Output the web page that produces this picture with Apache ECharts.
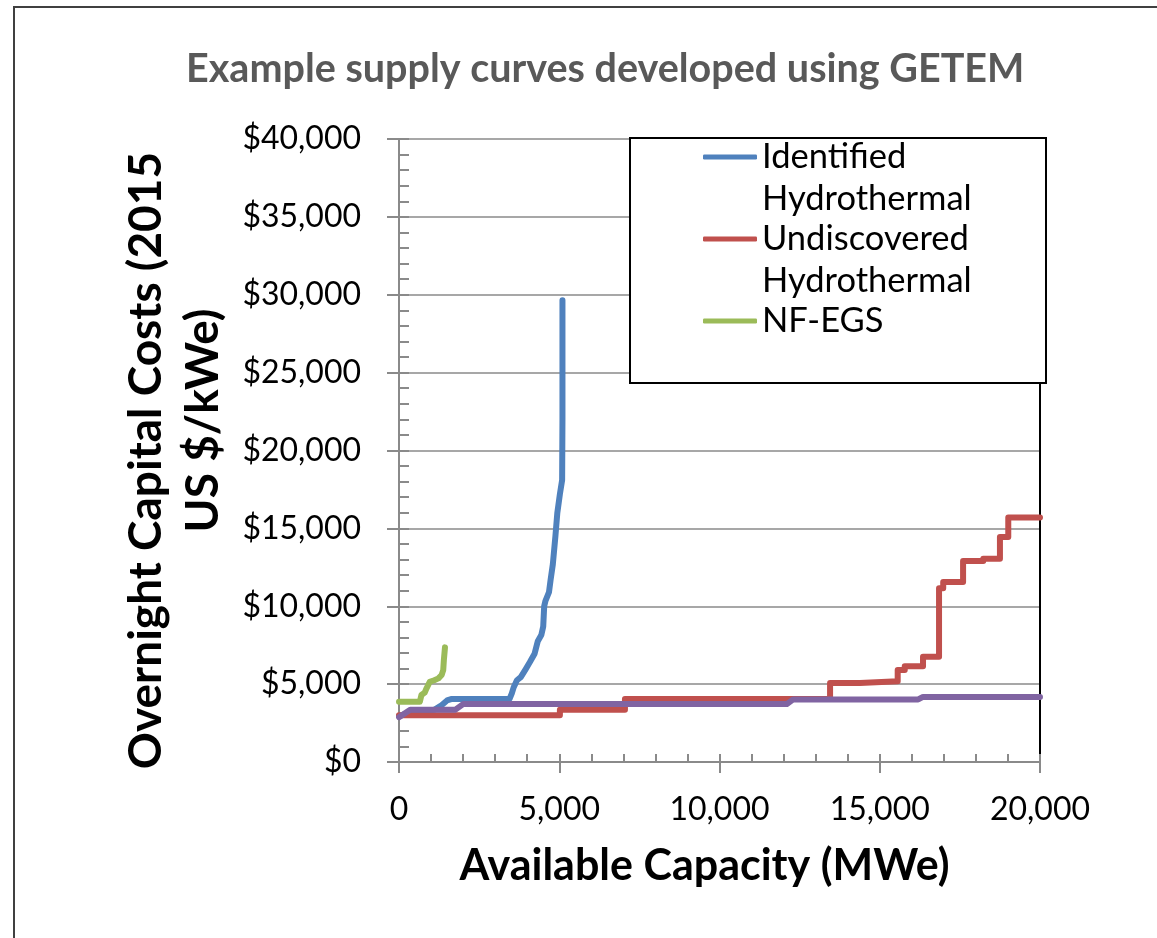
<!DOCTYPE html>
<html><head><meta charset="utf-8">
<script src="https://cdn.jsdelivr.net/npm/echarts@6/dist/echarts.min.js"></script>
<style>html,body{margin:0;padding:0;background:#fff}#c{width:1157px;height:938px}</style>
</head><body><div id="c"></div><script>
const titleText = 'Example supply curves developed using GETEM';
const xAxisTitle = 'Available Capacity (MWe)';
const yAxisTitleLines = ['Overnight Capital Costs (2015', 'US $/kWe)'];
const seriesNames = ['Identified Hydrothermal', 'Undiscovered Hydrothermal', 'NF-EGS', 'Other'];
const legendLabels = ['Identified\nHydrothermal', 'Undiscovered\nHydrothermal', 'NF-EGS'];
const seriesColors = ['#4F81BD', '#C0504D', '#9BBB59', '#8064A2'];

// [capacity MWe, cost $/kWe]
const identified = [[0,2950],[300,3150],[700,3250],[1100,3350],[1300,3600],[1500,3950],[1650,4050],[3450,4050],
  [3520,4400],[3580,4800],[3680,5250],[3800,5450],[3950,5950],[4080,6400],[4230,6950],[4330,7750],[4440,8150],
  [4500,8700],[4530,10000],[4570,10350],[4680,10900],[4730,11700],[4800,12700],[4880,14500],[4940,16000],
  [5020,17200],[5090,18100],[5100,22000],[5100,29650]];
// step curve: each point = where the new level begins
const undiscovered = [[0,3000],[5020,3350],[7050,4050],[13450,5080],[14380,5180],[15560,5900],[15780,6150],
  [16350,6750],[16850,11150],[16980,11550],[17600,12900],[18230,13050],[18750,14450],[19010,15700],[20000,15700]];
const nfegs = [[0,3870],[650,3870],[700,4300],[800,4450],[860,4730],[960,5150],[1100,5250],[1230,5370],
  [1330,5590],[1380,5900],[1400,6550],[1435,7360]];
const other = [[0,2880],[350,3350],[1750,3350],[2000,3720],[12100,3720],[12300,4020],[16200,4020],[16350,4180],[20000,4180]];

const xTicks = {min: 0, max: 20000, major: 5000, minor: 1000};
const yTicks = {min: 0, max: 40000, major: 5000, minor: 1000};

const FONT = 'Lato';
const fmt = v => v.toLocaleString('en-US');
const gridGray = '#8a8a8a';

const chart = echarts.init(document.getElementById('c'), null, {renderer: 'canvas'});
const lineSeries = (i, data, extra) => Object.assign({
  name: seriesNames[i], type: 'line', data: data, showSymbol: false, symbol: 'none',
  color: seriesColors[i],
  lineStyle: {color: seriesColors[i], width: 6, cap: 'round', join: 'round'},
  emphasis: {disabled: true}, z: 2 + i * 0.1
}, extra || {});

chart.setOption({
  animation: false,
  backgroundColor: '#fff',
  title: {
    text: titleText, left: 186, top: 49, padding: 0,
    textStyle: {fontFamily: FONT, fontSize: 39.5, fontWeight: 'bold', color: '#595959'}
  },
  grid: {left: 399, right: 117, top: 139, bottom: 176, containLabel: false},
  legend: {
    data: seriesNames.slice(0, 3), orient: 'vertical', left: 703, top: 94, padding: 0,
    itemGap: -44, itemWidth: 54, itemHeight: 5, icon: 'roundRect', selectedMode: false,
    formatter: name => (name === 'NF-EGS' ? '\n' + legendLabels[2] + '\n' : '\n' + legendLabels[seriesNames.indexOf(name)]),
    textStyle: {fontFamily: FONT, fontSize: 34.5, lineHeight: 42, color: '#000'}
  },
  xAxis: [{
    type: 'value', min: xTicks.min, max: xTicks.max, interval: xTicks.major, position: 'bottom',
    axisLine: {show: true, lineStyle: {color: gridGray, width: 2}},
    axisTick: {show: true, length: 11, lineStyle: {color: gridGray, width: 2}},
    axisLabel: {margin: 32, fontFamily: FONT, fontSize: 32, color: '#000', formatter: fmt},
    splitLine: {show: false},
    name: xAxisTitle, nameLocation: 'middle', nameGap: 77,
    nameTextStyle: {fontFamily: FONT, fontSize: 43, fontWeight: 'bold', color: '#000', lineHeight: 54, padding: [0, 30, 0, 0]}
  }, {
    type: 'value', min: xTicks.min, max: xTicks.max, interval: xTicks.minor, position: 'bottom',
    axisLine: {show: false}, axisTick: {show: true, inside: true, length: 8, lineStyle: {color: gridGray, width: 2}},
    axisLabel: {show: false}, splitLine: {show: false}
  }],
  yAxis: [{
    type: 'value', min: yTicks.min, max: yTicks.max, interval: yTicks.major, position: 'left',
    axisLine: {show: true, lineStyle: {color: gridGray, width: 2}},
    axisTick: {show: true, length: 12, lineStyle: {color: gridGray, width: 2}},
    axisLabel: {margin: 38, fontFamily: FONT, fontSize: 32, color: '#000', formatter: v => '$' + fmt(v)},
    splitLine: {show: true, lineStyle: {color: gridGray, width: 1.5}},
    name: '{a|' + yAxisTitleLines[0] + '}\n{b|' + yAxisTitleLines[1] + '}',
    nameLocation: 'middle', nameRotate: 90, nameGap: 167,
    nameTextStyle: {
      fontFamily: FONT, fontSize: 46, fontWeight: 'bold', color: '#000', lineHeight: 57,
      rich: {
        a: {fontFamily: FONT, fontSize: 46, fontWeight: 'bold', color: '#000', lineHeight: 57, padding: [0, 20, 0, 0]},
        b: {fontFamily: FONT, fontSize: 46, fontWeight: 'bold', color: '#000', lineHeight: 57, padding: [0, 0, 0, 60]}
      }
    }
  }, {
    type: 'value', min: yTicks.min, max: yTicks.max, interval: yTicks.minor, position: 'left',
    axisLine: {show: false}, axisTick: {show: true, inside: true, length: 10, lineStyle: {color: gridGray, width: 2}},
    axisLabel: {show: false}, splitLine: {show: false}
  }, {
    type: 'value', min: yTicks.min, max: yTicks.max, interval: yTicks.major, position: 'right',
    axisLine: {show: true, lineStyle: {color: '#000', width: 2}},
    axisTick: {show: false}, axisLabel: {show: false}, splitLine: {show: false}
  }],
  graphic: [{
    type: 'rect', z: 0, silent: true,
    shape: {x: 14, y: 7, width: 1200, height: 1000},
    style: {fill: 'none', stroke: '#404040', lineWidth: 2}
  }, {
    type: 'rect', z: 3, silent: true,
    shape: {x: 630, y: 138, width: 416, height: 245},
    style: {fill: '#fff', stroke: '#000', lineWidth: 2}
  }],
  series: [
    lineSeries(0, identified),
    lineSeries(1, undiscovered, {step: 'end'}),
    lineSeries(2, nfegs),
    lineSeries(3, other)
  ]
});
</script></body></html>
